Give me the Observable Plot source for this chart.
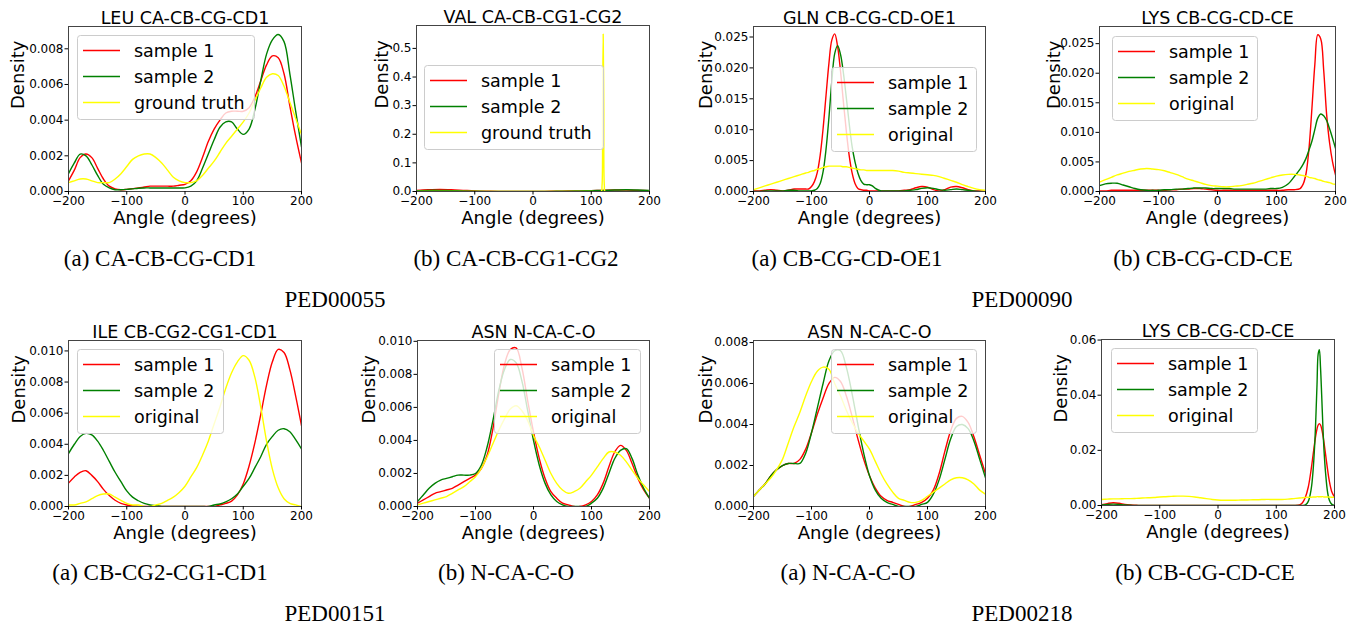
<!DOCTYPE html>
<html><head><meta charset="utf-8">
<script src="https://cdn.jsdelivr.net/npm/d3@7"></script>
<script src="https://cdn.jsdelivr.net/npm/@observablehq/plot@0.6"></script>
<style>
body{margin:0;background:#fff;}
#root{position:relative;width:1347px;height:625px;overflow:hidden;background:#fff;}
</style></head><body><div id="root"></div>
<script>
// ---------- DATA ----------
const xTicks = [-200, -100, 0, 100, 200];
const grid10 = [-200,-190,-180,-170,-160,-150,-140,-130,-120,-110,-100,-90,-80,-70,-60,-50,-40,-30,-20,-10,0,10,20,30,40,50,60,70,80,90,100,110,120,130,140,150,160,170,180,190,200];

// LEU CA-CB-CG-CD1 (PED00055 a)
const leuS1 = [0.0006,0.0012,0.0019,0.0021,0.0019,0.0013,0.0007,0.0003,0.00015,0.0001,0.00012,0.00016,0.0002,0.00025,0.0003,0.0003,0.0003,0.0003,0.0003,0.00035,0.0004,0.0006,0.0011,0.0019,0.0028,0.0035,0.0040,0.0044,0.0045,0.0045,0.0045,0.0047,0.0053,0.0062,0.0071,0.0076,0.0075,0.0066,0.0048,0.0031,0.0016];
const leuS2 = [0.0010,0.0016,0.0021,0.0020,0.0015,0.0009,0.0004,0.0002,0.0001,0.0001,0.00012,0.00015,0.00018,0.0002,0.0002,0.0002,0.0002,0.0002,0.0002,0.0002,0.0002,0.0003,0.0006,0.0013,0.0021,0.0029,0.0036,0.0039,0.0039,0.0035,0.0032,0.0035,0.0046,0.0062,0.0077,0.0085,0.0088,0.0084,0.0066,0.0045,0.0025];
const leuGT = [0.0005,0.0006,0.0007,0.0007,0.0006,0.0005,0.0005,0.0005,0.0007,0.0010,0.0014,0.0018,0.0020,0.0021,0.0021,0.0019,0.0016,0.0012,0.0008,0.0006,0.0005,0.0005,0.0006,0.0009,0.0013,0.0017,0.0022,0.0027,0.0031,0.0035,0.0039,0.0044,0.0051,0.0058,0.0064,0.0066,0.0065,0.0059,0.0050,0.0041,0.0032];

// VAL CA-CB-CG1-CG2 (PED00055 b)
const valX = [-200,-180,-160,-140,-120,-100,-80,-60,-40,-20,0,20,40,60,80,100,120,140,160,180,200];
const valS1 = [0.004,0.006,0.007,0.006,0.004,0.002,0.001,0.0005,0.0003,0.0003,0.0003,0.0005,0.001,0.0015,0.002,0.003,0.004,0.005,0.005,0.004,0.003];
const valS2 = [0.003,0.004,0.004,0.003,0.002,0.001,0.0005,0.0003,0.0002,0.0002,0.0002,0.0003,0.0007,0.0012,0.002,0.003,0.004,0.005,0.006,0.005,0.004];
const valGtX = [-200,100,117,118.5,119.5,120.5,121.5,122.5,124,200];
const valGT = [0,0,0,0.02,0.3,0.55,0.3,0.02,0,0];

// GLN CB-CG-CD-OE1 (PED00090 a)
const glnX = [-200,-190,-180,-170,-160,-150,-140,-130,-120,-110,-105,-100,-95,-90,-85,-80,-75,-70,-65,-60,-55,-50,-45,-40,-35,-30,-25,-20,-15,-10,-5,0,5,10,20,30,40,50,60,70,80,90,100,110,120,130,140,150,160,170,180,190,200];
const glnS1 = [0.0001,0.0001,0.0002,0.0003,0.0002,0.0001,0.0002,0.0004,0.0004,0.0004,0.0004,0.0008,0.0016,0.0031,0.0059,0.0102,0.0155,0.0207,0.0245,0.0255,0.0235,0.0195,0.0145,0.0098,0.0058,0.0030,0.0013,0.0005,0.0003,0.0002,0.0002,0.0001,0.0001,0.0001,0.0001,0.0001,0.0001,0.0001,0.0002,0.0003,0.0006,0.0008,0.0007,0.0003,0.0001,0.0003,0.0007,0.0008,0.0006,0.0003,0.0001,0.0001,0.0000];
const glnS2 = [0.0000,0.0000,0.0001,0.0001,0.0001,0.0001,0.0002,0.0002,0.0001,0.0001,0.0001,0.0001,0.0002,0.0005,0.0013,0.0032,0.0068,0.0119,0.0178,0.0223,0.0236,0.0222,0.0192,0.0152,0.0110,0.0073,0.0048,0.0030,0.0018,0.0012,0.0011,0.0011,0.0009,0.0005,0.0001,0.0001,0.0001,0.0001,0.0001,0.0002,0.0003,0.0005,0.0006,0.0005,0.0003,0.0002,0.0003,0.0004,0.0003,0.0002,0.0001,0.0000,0.0000];
const glnOrig = [0.0003,0.0006,0.0009,0.0012,0.0015,0.0018,0.0021,0.0024,0.0027,0.0030,0.0031,0.0033,0.0034,0.0036,0.0037,0.0039,0.0040,0.0041,0.0041,0.0041,0.0041,0.0041,0.0040,0.0040,0.0039,0.0038,0.0037,0.0036,0.0035,0.0035,0.0034,0.0034,0.0034,0.0034,0.0034,0.0034,0.0034,0.0033,0.0031,0.0030,0.0029,0.0028,0.0027,0.0026,0.0024,0.0021,0.0018,0.0015,0.0011,0.0008,0.0005,0.0003,0.0002];

// LYS CB-CG-CD-CE (PED00090 b)
const lysTopX = [-200,-190,-180,-170,-160,-150,-140,-130,-120,-110,-100,-90,-80,-70,-60,-50,-40,-30,-20,-10,0,10,20,30,40,50,60,70,80,90,100,110,120,130,140,145,150,155,160,165,170,175,180,185,190,195,200];
const lysTopS1 = [0.0001,0.0001,0.0002,0.0002,0.0002,0.0002,0.0002,0.0002,0.0002,0.0002,0.0002,0.0002,0.0003,0.0003,0.0004,0.0004,0.0005,0.0005,0.0004,0.0003,0.0002,0.0002,0.0002,0.0002,0.0002,0.0002,0.0002,0.0002,0.0002,0.0002,0.0002,0.0002,0.0003,0.0003,0.0005,0.0012,0.0030,0.0072,0.0140,0.0215,0.0265,0.0258,0.0205,0.0130,0.0082,0.0050,0.0028];
const lysTopS2 = [0.0010,0.0013,0.0014,0.0014,0.0011,0.0008,0.0005,0.0003,0.0002,0.0002,0.0002,0.0003,0.0003,0.0004,0.0004,0.0005,0.0006,0.0006,0.0006,0.0005,0.0005,0.0005,0.0005,0.0004,0.0004,0.0004,0.0004,0.0004,0.0004,0.0005,0.0005,0.0007,0.0013,0.0025,0.0038,0.0046,0.0056,0.0070,0.0085,0.0105,0.0124,0.0131,0.0128,0.0120,0.0106,0.0090,0.0073];
const lysTopOrig = [0.0016,0.0020,0.0024,0.0028,0.0031,0.0034,0.0036,0.0038,0.0039,0.0038,0.0037,0.0035,0.0032,0.0029,0.0025,0.0021,0.0018,0.0015,0.0012,0.0010,0.0009,0.0008,0.0008,0.0009,0.0010,0.0012,0.0014,0.0017,0.0020,0.0023,0.0026,0.0028,0.0029,0.0029,0.0028,0.0027,0.0026,0.0024,0.0023,0.0022,0.0020,0.0019,0.0017,0.0016,0.0015,0.0013,0.0012];

// ILE CB-CG2-CG1-CD1 (PED00151 a)
const ileS1 = [0.0015,0.0019,0.0022,0.0023,0.0020,0.0016,0.0011,0.0007,0.0004,0.0002,0.0001,0.00005,0,0,0,0,0,0,0,0,0,0,0,0,0,0,0.0001,0.0002,0.00035,0.00075,0.00145,0.0026,0.0041,0.0059,0.0078,0.0093,0.0101,0.0099,0.0088,0.0071,0.0052];
const ileS2 = [0.0034,0.0040,0.0045,0.0047,0.0046,0.0042,0.0036,0.0029,0.0022,0.0016,0.0010,0.0006,0.00037,0.0002,0.0001,0.00005,0,0,0,0,0,0,0,0,0,0.0001,0.00016,0.0003,0.0005,0.0008,0.0013,0.0018,0.0025,0.0032,0.0040,0.0045,0.0049,0.0050,0.0048,0.0043,0.0037];
const ileOrig = [0.0001,0.0001,0.0002,0.0003,0.0005,0.0007,0.0008,0.0008,0.0006,0.0004,0.0002,0.0001,0.0001,0,0,0.0001,0.0002,0.0004,0.0006,0.0009,0.0013,0.0019,0.0025,0.0033,0.0042,0.0053,0.0064,0.0076,0.0086,0.0093,0.0097,0.0094,0.0083,0.0064,0.0042,0.0024,0.0012,0.0005,0.0002,0.0001,0];

// ASN N-CA-C-O (PED00151 b)
const asnAS1 = [0.0002,0.0004,0.0006,0.0008,0.0009,0.0010,0.0011,0.0013,0.0015,0.0017,0.0019,0.0023,0.0031,0.0047,0.0068,0.0086,0.0095,0.0096,0.0084,0.0064,0.0045,0.0029,0.0017,0.0009,0.0005,0.0002,0.0001,0,0,0.0001,0.0003,0.0007,0.0014,0.0024,0.0033,0.0037,0.0034,0.0026,0.0017,0.0010,0.0005];
const asnAS2 = [0.0003,0.0007,0.0011,0.0014,0.0016,0.0017,0.0018,0.0019,0.0019,0.0019,0.0020,0.0025,0.0036,0.0052,0.0070,0.0083,0.0089,0.0087,0.0076,0.0058,0.0040,0.0025,0.0014,0.0007,0.0003,0.0001,0,0,0,0,0.0002,0.0005,0.0011,0.0020,0.0029,0.0034,0.0035,0.0029,0.0019,0.0011,0.0005];
const asnAOrig = [0.0001,0.0002,0.0003,0.0004,0.0005,0.0006,0.0008,0.0010,0.0012,0.0015,0.0018,0.0023,0.0030,0.0038,0.0046,0.0053,0.0059,0.0061,0.0058,0.0052,0.0043,0.0036,0.0028,0.0020,0.0014,0.0010,0.0008,0.0009,0.0011,0.0015,0.0019,0.0024,0.0029,0.0033,0.0033,0.0031,0.0027,0.0022,0.0017,0.0013,0.0009];

// ASN N-CA-C-O (PED00218 a)
const asnBS1 = [0.0005,0.0008,0.0011,0.0015,0.0018,0.0020,0.0021,0.0021,0.0023,0.0028,0.0036,0.0045,0.0053,0.0060,0.0063,0.0061,0.0054,0.0044,0.0033,0.0023,0.0015,0.0009,0.0005,0.0003,0.0002,0.0001,0,0,0.0001,0.0002,0.0004,0.0008,0.0016,0.0027,0.0037,0.0043,0.0044,0.0041,0.0034,0.0025,0.0016];
const asnBS2 = [0.0005,0.0008,0.0011,0.0015,0.0018,0.0020,0.0021,0.0021,0.0021,0.0026,0.0036,0.0048,0.0060,0.0071,0.0076,0.0076,0.0068,0.0055,0.0040,0.0026,0.0015,0.0008,0.0004,0.0002,0.0001,0,0,0,0,0.0001,0.0002,0.0006,0.0013,0.0023,0.0033,0.0039,0.0040,0.0038,0.0032,0.0023,0.0014];
const asnBOrig = [0.0005,0.0008,0.0011,0.0014,0.0018,0.0023,0.0031,0.0039,0.0046,0.0054,0.0061,0.0066,0.0068,0.0067,0.0060,0.0054,0.0047,0.0041,0.0036,0.0032,0.0028,0.0022,0.0016,0.0011,0.0007,0.0004,0.0003,0.0002,0.0002,0.0003,0.0005,0.0007,0.0009,0.0011,0.0013,0.0014,0.0014,0.0013,0.0011,0.0008,0.0006];

// LYS CB-CG-CD-CE (PED00218 b)
const lysBotX = [-200,-190,-180,-170,-160,-150,-140,-130,-120,-110,-100,-90,-80,-70,-60,-50,-40,-30,-20,-10,0,10,20,30,40,50,60,70,80,90,100,110,120,130,140,145,150,155,160,163,166,168,170,172,174,176,178,180,182,185,188,191,195,200];
const lysBotS1 = [0.0003,0.0007,0.0010,0.0008,0.0004,0.0002,0.0001,0,0,0,0,0,0,0,0,0,0,0,0,0,0,0,0,0,0,0,0,0,0,0,0,0,0,0,0.0002,0.0010,0.0030,0.0067,0.0132,0.0180,0.0228,0.0256,0.0278,0.0292,0.0297,0.0292,0.0278,0.0256,0.0228,0.0180,0.0132,0.0090,0.0052,0.0030];
const lysBotS2 = [0.0002,0.0004,0.0005,0.0004,0.0002,0.0001,0,0,0,0,0,0,0,0,0,0,0,0,0,0,0,0,0,0,0,0,0,0,0,0,0,0,0,0,0,0,0.0002,0.0015,0.0060,0.0120,0.0220,0.0320,0.0440,0.0550,0.0565,0.0500,0.0400,0.0290,0.0200,0.0110,0.0050,0.0020,0.0005,0];
const lysBotOrig = [0.0022,0.0023,0.0024,0.0024,0.0025,0.0025,0.0026,0.0027,0.0028,0.0029,0.0031,0.0032,0.0033,0.0034,0.0034,0.0033,0.0031,0.0028,0.0025,0.0022,0.0020,0.0019,0.0019,0.0019,0.0020,0.0020,0.0021,0.0021,0.0022,0.0022,0.0022,0.0022,0.0023,0.0025,0.0027,0.0028,0.0029,0.0030,0.0030,0.0031,0.0031,0.0031,0.0032,0.0032,0.0032,0.0032,0.0032,0.0032,0.0031,0.0031,0.0031,0.0031,0.0030,0.0030];

// tick values
const ticks008 = [0, 0.002, 0.004, 0.006, 0.008];
const ticks010 = [0, 0.002, 0.004, 0.006, 0.008, 0.010];
const ticks05 = [0, 0.1, 0.2, 0.3, 0.4, 0.5];
const ticks025 = [0, 0.005, 0.010, 0.015, 0.020, 0.025];
const ticks06 = [0, 0.02, 0.04, 0.06];

const labelsGT = ["sample 1", "sample 2", "ground truth"];
const labelsOrig = ["sample 1", "sample 2", "original"];
const titles = ["LEU CA-CB-CG-CD1","VAL CA-CB-CG1-CG2","GLN CB-CG-CD-OE1","LYS CB-CG-CD-CE","ILE CB-CG2-CG1-CD1","ASN N-CA-C-O","ASN N-CA-C-O","LYS CB-CG-CD-CE"];
const captions = ["(a) CA-CB-CG-CD1","(b) CA-CB-CG1-CG2","(a) CB-CG-CD-OE1","(b) CB-CG-CD-CE","(a) CB-CG2-CG1-CD1","(b) N-CA-C-O","(a) N-CA-C-O","(b) CB-CG-CD-CE"];
const groups = ["PED00055","PED00090","PED00151","PED00218"];

// ---------- STYLE / LAYOUT ----------
const RED = "#ff0000", GREEN = "#008000", YELLOW = "#ffff00";
const panels = [
  {L:68, R:301, T:26, B:191, yMax:0.00925, yTicks:ticks008, fmt:".3f", yLab:-44.5, lg:[77,35,177], labels:labelsGT,
   series:[[grid10,leuS1,RED],[grid10,leuS2,GREEN],[grid10,leuGT,YELLOW]]},
  {L:416, R:649, T:25, B:191, yMax:0.58, yTicks:ticks05, fmt:".1f", yLab:-28.5, lg:[424,65,179], labels:labelsGT,
   series:[[valX,valS1,RED],[valX,valS2,GREEN],[valGtX,valGT,YELLOW]]},
  {L:753, R:985, T:26, B:191, yMax:0.0267, yTicks:ticks025, fmt:".3f", yLab:-42, lg:[831,67,145], labels:labelsOrig,
   series:[[glnX,glnS1,RED],[glnX,glnS2,GREEN],[glnX,glnOrig,YELLOW]]},
  {L:1099, R:1335, T:26, B:191, yMax:0.0279, yTicks:ticks025, fmt:".3f", yLab:-40, lg:[1112,36,145], labels:labelsOrig,
   series:[[lysTopX,lysTopS1,RED],[lysTopX,lysTopS2,GREEN],[lysTopX,lysTopOrig,YELLOW]]},
  {L:68, R:301, T:340, B:506, yMax:0.01067, yTicks:ticks010, fmt:".3f", yLab:-44, lg:[77,349,146], labels:labelsOrig,
   series:[[grid10,ileS1,RED],[grid10,ileS2,GREEN],[grid10,ileOrig,YELLOW]]},
  {L:417, R:649, T:340, B:506, yMax:0.01005, yTicks:ticks010, fmt:".3f", yLab:-43, lg:[494,349,146], labels:labelsOrig,
   series:[[grid10,asnAS1,RED],[grid10,asnAS2,GREEN],[grid10,asnAOrig,YELLOW]]},
  {L:753, R:985, T:340, B:506, yMax:0.0081, yTicks:ticks008, fmt:".3f", yLab:-42, lg:[831,349,145], labels:labelsOrig,
   series:[[grid10,asnBS1,RED],[grid10,asnBS2,GREEN],[grid10,asnBOrig,YELLOW]]},
  {L:1101, R:1334, T:339, B:505, yMax:0.0602, yTicks:ticks06, fmt:".2f", yLab:-35, lg:[1111,348,146], labels:labelsOrig,
   series:[[lysBotX,lysBotS1,RED],[lysBotX,lysBotS2,GREEN],[lysBotX,lysBotOrig,YELLOW]]}
];
const capPos = [[160,265.5],[516,265.5],[847,265.5],[1203,265.5],[160,579.5],[506,579.5],[848,579.5],[1205,579.5]];
const groupPos = [[335,307],[1022,307],[335,620.5],[1022,620.5]];

const root = document.getElementById("root");
const FONT = "'DejaVu Sans', sans-serif";

panels.forEach((p, k) => {
  const mL = 85, mR = 20, mT = 34, mB = 40;
  const marks = p.series.map(([xs, ys, color]) =>
    Plot.line(xs.map((x, i) => ({x, y: ys[i]})), {x: "x", y: "y", stroke: color, strokeWidth: 1.4, curve: "catmull-rom", clip: true})
  );
  marks.push(
    Plot.frame({stroke: "#444", strokeWidth: 1}),
    Plot.axisX({ticks: xTicks, tickFormat: d3.format("d"), tickSize: 3.5, tickPadding: 1.5, fontSize: 12, label: null}),
    Plot.axisY({ticks: p.yTicks, tickFormat: d3.format(p.fmt), tickSize: 3.5, tickPadding: 1.5, fontSize: 12, label: null}),
    Plot.text([titles[k]], {text: d => d, frameAnchor: "top", lineAnchor: "bottom", dy: -3, fontSize: 17.5}),
    Plot.text(["Angle (degrees)"], {text: d => d, frameAnchor: "bottom", lineAnchor: "bottom", dy: 32, fontSize: 18}),
    Plot.text(["Density"], {text: d => d, frameAnchor: "left", rotate: -90, lineAnchor: "bottom", dx: p.yLab, fontSize: 18})
  );
  const svg = Plot.plot({
    width: (p.R - p.L) + mL + mR,
    height: (p.B - p.T) + mT + mB,
    marginLeft: mL, marginRight: mR, marginTop: mT, marginBottom: mB,
    x: {domain: [-200, 200]},
    y: {domain: [0, p.yMax]},
    style: {fontFamily: FONT, fontSize: "12px", color: "black", background: "transparent", overflow: "visible"},
    marks
  });
  svg.style.position = "absolute";
  svg.style.left = (p.L - mL) + "px";
  svg.style.top = (p.T - mT) + "px";
  root.appendChild(svg);
});

// overlay: legends and captions
const ov = d3.select(root).append("svg")
  .attr("width", 1347).attr("height", 625)
  .style("position", "absolute").style("left", 0).style("top", 0)
  .style("pointer-events", "none");

panels.forEach(p => {
  const [bx, by, bw] = p.lg;
  const g = ov.append("g").attr("transform", `translate(${bx},${by})`);
  g.append("rect").attr("x", 0.5).attr("y", 0.5).attr("width", bw).attr("height", 84)
    .attr("rx", 3).attr("fill", "white").attr("fill-opacity", 0.8).attr("stroke", "#cccccc");
  const rows = [15.5, 41.5, 67.5];
  p.series.forEach((s, i) => {
    g.append("line").attr("x1", 6).attr("x2", 43).attr("y1", rows[i]).attr("y2", rows[i])
      .attr("stroke", s[2]).attr("stroke-width", 1.6);
    g.append("text").attr("x", 57).attr("y", rows[i]).attr("dy", "0.36em")
      .attr("font-family", FONT).attr("font-size", 17.5).text(p.labels[i]);
  });
});

captions.forEach((c, i) => {
  ov.append("text").attr("x", capPos[i][0]).attr("y", capPos[i][1]).attr("text-anchor", "middle")
    .attr("font-family", "'Liberation Serif', 'Times New Roman', serif").attr("font-size", 23).text(c);
});
groups.forEach((c, i) => {
  ov.append("text").attr("x", groupPos[i][0]).attr("y", groupPos[i][1]).attr("text-anchor", "middle")
    .attr("font-family", "'Liberation Serif', 'Times New Roman', serif").attr("font-size", 23).text(c);
});
</script></body></html>
